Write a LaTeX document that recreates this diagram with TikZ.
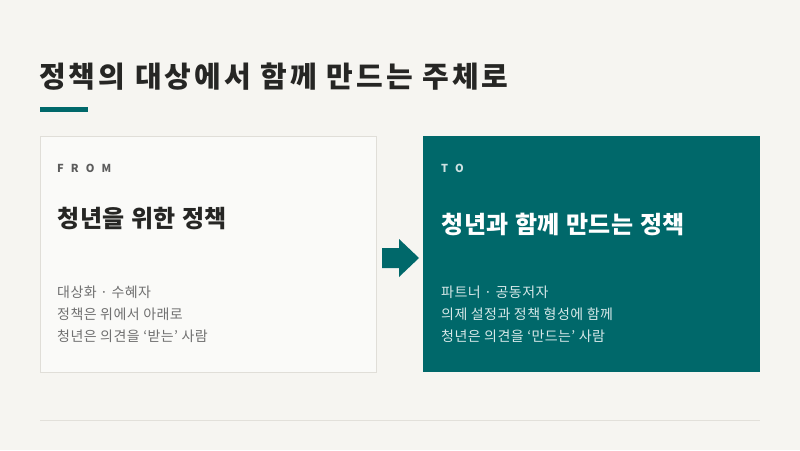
\documentclass[tikz,border=0pt]{standalone}
\usepackage{fontspec}
\setmainfont{Noto Sans CJK KR}
\definecolor{bgc}{HTML}{F6F5F1}
\definecolor{teal}{HTML}{00686A}
\definecolor{cardbg}{HTML}{FAFAF8}
\definecolor{cardline}{HTML}{E0DED8}
\definecolor{titlec}{HTML}{262624}
\definecolor{bodyg}{HTML}{707070}
\definecolor{labelg}{HTML}{5C5C5C}
\definecolor{tolabel}{HTML}{CFE2E2}
\definecolor{tobody}{HTML}{D6E8E8}
\definecolor{rulec}{HTML}{E2E0DA}
\tikzset{
  lbl/.style={anchor=west, inner sep=0pt, font=\fontsize{11}{13}\selectfont\bfseries\addfontfeature{LetterSpace=65}},
  head/.style={anchor=west, inner sep=0pt, font=\fontsize{24}{28}\selectfont\bfseries\addfontfeature{LetterSpace=3}},
  bodyline/.style={anchor=west, inner sep=0pt, font=\fontsize{14}{16}\selectfont\addfontfeature{LetterSpace=3}},
}
\begin{document}
\begin{tikzpicture}[x=1pt,y=-1pt]
\useasboundingbox (0,0) rectangle (800,450);
\fill[bgc] (0,0) rectangle (800,450);
% title
\node[anchor=west, inner sep=0pt, font=\fontsize{29}{34}\selectfont\bfseries\addfontfeature{LetterSpace=10.5}, text=titlec] (title) at (39,77) {정책의 대상에서 함께 만드는 주체로};
\fill[teal] (40,107) rectangle (88,112);
% left card
\node[draw=cardline, fill=cardbg, line width=1pt, minimum width=336pt, minimum height=236pt, anchor=north west, inner sep=0pt] (from) at (40,136) {};
\node[lbl, text=labelg] (fromlbl) at (57,168) {FROM};
\node[head, text=titlec] (fromhead) at (57,219) {청년을 위한 정책};
\node[bodyline, text=bodyg] (f1) at (57,292) {대상화 · 수혜자};
\node[bodyline, text=bodyg] (f2) at (57,314) {정책은 위에서 아래로};
\node[bodyline, text=bodyg] (f3) at (57,336) {청년은 의견을 ‘받는’ 사람};
% right card
\node[fill=teal, minimum width=337pt, minimum height=236pt, anchor=north west, inner sep=0pt] (to) at (423,136) {};
\node[lbl, text=tolabel] (tolbl) at (441,168) {TO};
\node[head, text=white] (tohead) at (441,224) {청년과 함께 만드는 정책};
\node[bodyline, text=tobody] (t1) at (441,292) {파트너 · 공동저자};
\node[bodyline, text=tobody] (t2) at (441,314) {의제 설정과 정책 형성에 함께};
\node[bodyline, text=tobody] (t3) at (441,336) {청년은 의견을 ‘만드는’ 사람};
% arrow
\fill[teal] (382,248) -- (399,248) -- (399,239) -- (419,258) -- (399,277) -- (399,268) -- (382,268) -- cycle;
% bottom rule
\draw[rulec, line width=1pt] (40,420) -- (760,420);
\end{tikzpicture}
\end{document}
